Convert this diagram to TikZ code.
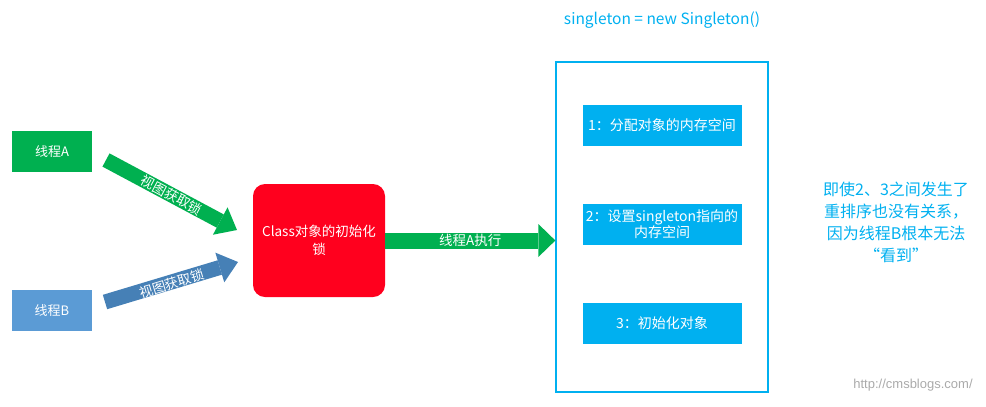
\documentclass[tikz,border=0pt]{standalone}
\usepackage{fontspec}
\setmainfont{Noto Sans CJK SC}
\newfontfamily\wmfont{Liberation Sans}
\usetikzlibrary{arrows.meta,positioning}
\definecolor{thrACol}{RGB}{0,176,80}
\definecolor{thrBCol}{RGB}{91,155,213}
\definecolor{arrBCol}{RGB}{70,128,182}
\definecolor{lockCol}{RGB}{255,0,30}
\definecolor{stepCol}{RGB}{0,176,240}
\definecolor{wmCol}{RGB}{170,170,170}
\tikzset{
  thr/.style={minimum width=80bp,minimum height=41bp,inner sep=0pt,text=white,
              font=\fontsize{13bp}{16bp}\selectfont},
  thrA/.style={thr,fill=thrACol},
  thrB/.style={thr,fill=thrBCol},
  lock/.style={fill=lockCol,rounded corners=12bp,minimum width=132bp,minimum height=113bp,
               inner sep=0pt,text=white,align=center,font=\fontsize{13.5bp}{18bp}\selectfont},
  stepbox/.style={fill=stepCol,minimum width=159bp,minimum height=41bp,inner sep=0pt,
                  text=white,align=center,font=\fontsize{14bp}{16bp}\selectfont},
  outerbox/.style={draw=stepCol,line width=1.3bp,minimum width=212bp,minimum height=330bp,inner sep=0pt},
  fat/.style={line width=15bp,-{Triangle[length=19bp,width=31bp,line width=0pt]}},
  onarrow/.style={text=white,inner sep=0pt,font=\fontsize{13.5bp}{16bp}\selectfont},
  note/.style={text=stepCol,align=center,inner sep=0pt},
}

\begin{document}
\begin{tikzpicture}[x=1bp,y=-1bp]
  \useasboundingbox (0,0) rectangle (986,406);
  % threads and the lock
  \node[thrA] (ta) at (52,151.5) {线程A};
  \node[thrB] (tb) at (52,310.5) {线程B};
  \node[lock] (lk) at (319,240.5) {Class对象的初始化\\锁};
  % the three steps of new
  \node[outerbox] (outer) at (662,227) {};
  \node[note,font=\fontsize{15.5bp}{18bp}\selectfont] (title) at (662,20) {singleton = new Singleton()};
  \foreach \i/\y/\t in {1/125.5/{1：分配对象的内存空间},
                        2/224.5/{2：设置singleton指向的\\内存空间},
                        3/323.5/{3：初始化对象}}
    \node[stepbox] (s\i) at (662,\y) {\t};
  \node[note,font=\fontsize{16bp}{22bp}\selectfont] (why) at (896,222)
    {即使2、3之间发生了\\重排序也没有关系，\\因为线程B根本无法\\“看到”};
  \node[text=wmCol,inner sep=0pt,font=\wmfont\fontsize{13bp}{15bp}\selectfont] (wm) at (913,385) {http://cmsblogs.com/};
  % block arrows
  \coordinate (aS) at (106,160);
  \coordinate (aE) at (237,230);
  \coordinate (bS) at (105,302);
  \coordinate (bE) at (238,262);
  \draw[fat,thrACol] (aS) -- node[onarrow,sloped] {视图获取锁} (aE);
  \draw[fat,arrBCol] (bS) -- node[onarrow,sloped,yshift=-1.5bp] {视图获取锁} (bE);
  \draw[fat,line width=16bp,-{Triangle[length=17bp,width=33bp,line width=0pt]},thrACol]
    (lk.east) -- node[onarrow] {线程A执行} (lk.east -| outer.west);
\end{tikzpicture}
\end{document}
